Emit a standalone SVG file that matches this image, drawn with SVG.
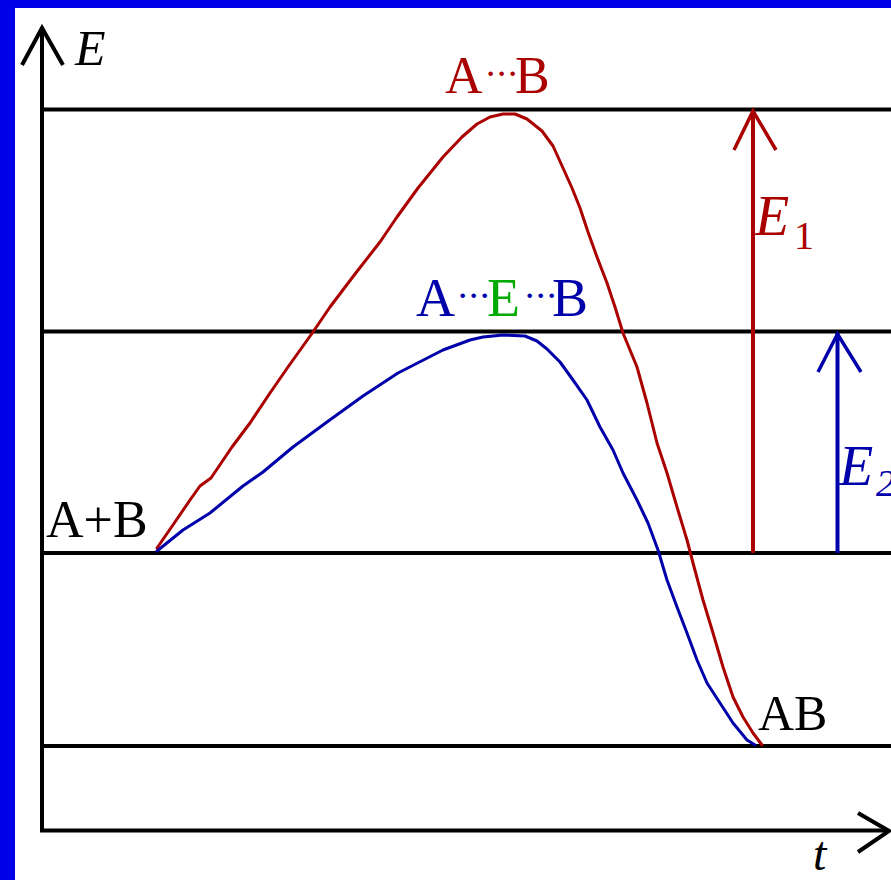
<svg xmlns="http://www.w3.org/2000/svg" width="891" height="880" viewBox="0 0 891 880">
<style>
.ax{stroke:#000;stroke-width:4;fill:none}
.lvl{stroke:#000;stroke-width:4;fill:none}
.arm{stroke-width:3.5;fill:none;stroke-linejoin:miter;stroke-linecap:butt}
.crv{stroke-width:3;fill:none;stroke-linejoin:round;stroke-linecap:round}
.t{font-family:"Liberation Serif","Times New Roman",serif}
.it{font-style:italic}
.dots{font-size:28px;font-weight:bold}
.red{fill:#AA0000}
.blue{fill:#0000AA}
.green{fill:#00AA00}
.blk{fill:#000}
</style>
<rect x="0" y="0" width="891" height="880" fill="#fff"/>
<rect x="0" y="0" width="891" height="8" fill="#0000E6"/>
<rect x="0" y="0" width="15" height="880" fill="#0000E6"/>

<g id="axes">
  <line class="ax" x1="42" y1="832" x2="42" y2="27"/>
  <polyline class="ax" points="22,65 42,28 63,65" stroke-width="3.5"/>
  <line class="ax" x1="40" y1="830.5" x2="889" y2="830.5"/>
  <polyline class="ax" points="858,813 889,831 858,852" stroke-width="3.5"/>
  <text class="t it blk" x="75" y="65" font-size="50">E</text>
  <text class="t it blk" x="813" y="870" font-size="48">t</text>
</g>

<g id="levels">
  <line class="lvl" x1="42" y1="109.5" x2="891" y2="109.5"/>
  <line class="lvl" x1="42" y1="331.5" x2="891" y2="331.5"/>
  <line class="lvl" x1="42" y1="553" x2="891" y2="553"/>
  <line class="lvl" x1="42" y1="746" x2="891" y2="746"/>
</g>

<g id="connectors">
  <polyline id="curve-uncatalysed" class="crv" stroke="#AA0000" points="157,548 175,522 190,500 200,486 211,478 232,447 250,423 270,393 288,367 313,332 330,307 355,274 380,242 397,217 418,188 443,157 462,137 477,124 490,117 503,114 515,114 527,119 542,131 553,146 563,168 572,188 580,208 588,232 597,257 607,283 615,307 623,333 637,367 647,403 657,443 667,473 677,507 687,540 693,563 703,600 713,633 723,667 733,697 743,717 753,733 762,745"/>
  <polyline id="curve-catalysed" class="crv" stroke="#0000AA" points="157,551 183,530 210,513 243,486 263,472 293,447 327,422 363,396 398,373 443,350 470,340 483,337 503,335 525,336 537,341 547,349 560,362 573,380 587,400 600,427 613,450 623,473 637,500 648,523 658,550 667,580 677,607 687,633 697,660 707,683 720,703 733,723 747,740 755,745"/>
  <g id="arrow-E1">
    <line x1="753" y1="553" x2="753" y2="110" stroke="#AA0000" stroke-width="4"/>
    <polyline class="arm" stroke="#AA0000" points="734,150 753,111 776,150"/>
  </g>
  <g id="arrow-E2">
    <line x1="837.5" y1="553" x2="837.5" y2="333" stroke="#0000AA" stroke-width="4"/>
    <polyline class="arm" stroke="#0000AA" points="818,372 837.5,334 861,372"/>
  </g>
</g>

<g id="node-transition-uncat">
  <text class="t red" x="445" y="93" font-size="52">A<tspan class="dots" x="486 497 508" y="83">···</tspan><tspan x="515" y="93">B</tspan></text>
</g>
<g id="node-transition-cat">
  <text class="t blue" x="416" y="316" font-size="54">A<tspan class="dots" x="458 469 480" y="305">···</tspan><tspan class="green" x="487" y="316">E</tspan><tspan class="dots" x="525 536 547" y="305">···</tspan><tspan x="552" y="316">B</tspan></text>
</g>
<g id="node-reactants">
  <text class="t blk" x="46" y="537" font-size="52">A+B</text>
</g>
<g id="node-product">
  <text class="t blk" x="758" y="730" font-size="50">AB</text>
</g>
<g id="label-E1">
  <text class="t red" x="755" y="235" font-size="56"><tspan class="it">E</tspan><tspan x="794" y="249" font-size="40">1</tspan></text>
</g>
<g id="label-E2">
  <text class="t it blue" x="839" y="485" font-size="56">E<tspan x="876" y="496" font-size="38">2</tspan></text>
</g>
</svg>
